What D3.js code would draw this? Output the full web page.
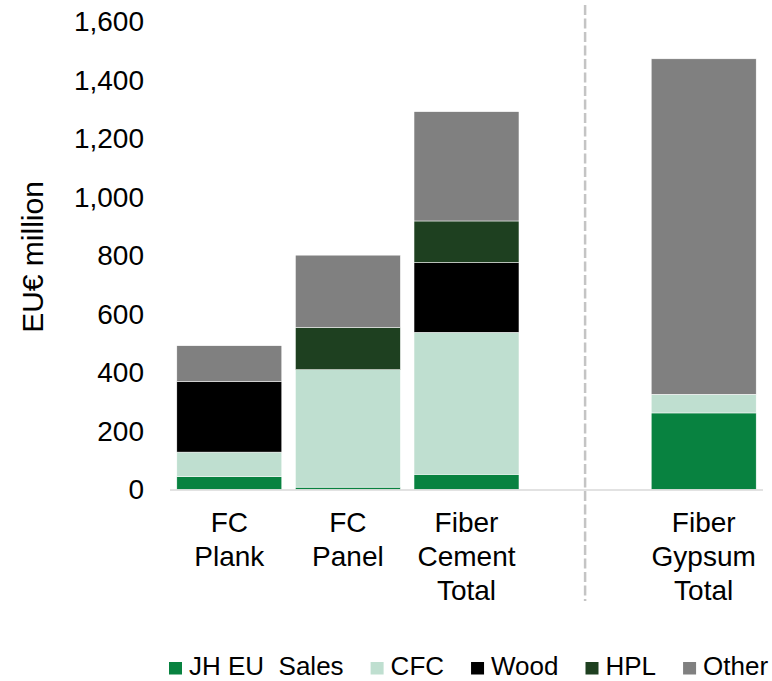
<!DOCTYPE html>
<html>
<head>
<meta charset="utf-8">
<script src="https://cdn.jsdelivr.net/npm/d3@7"></script>
<style>
  html, body { margin: 0; padding: 0; background: #fff; }
  svg text { font-family: "Liberation Sans", Arial, sans-serif; fill: #000; }
</style>
</head>
<body>
<div id="chart"></div>
<script>
// categories (the empty one is the gap where the dashed divider sits)
const categories = ["FC Plank", "FC Panel", "Fiber Cement Total", "", "Fiber Gypsum Total"];
const categoryLines = [["FC", "Plank"], ["FC", "Panel"], ["Fiber", "Cement", "Total"], [], ["Fiber", "Gypsum", "Total"]];

// series values, EU€ million
const jhEuSales = [44, 8, 52, 0, 262];
const cfc = [84, 402, 486, 0, 64];
const wood = [241, 0, 239, 0, 0];
const hpl = [0, 145, 142, 0, 0];
const other = [123, 247, 374, 0, 1148];

const seriesNames = ["JH EU  Sales", "CFC", "Wood", "HPL", "Other"];
const seriesColors = ["#088240", "#bfdfd0", "#000000", "#1e4020", "#808080"];

const yTicks = [0, 200, 400, 600, 800, 1000, 1200, 1400, 1600];

let width = 772, height = 681;

let svg = d3.select("#chart")
  .append("svg")
  .attr("width", width)
  .attr("height", height);

// build a table for d3.stack from the arrays
let seriesValues = [jhEuSales, cfc, wood, hpl, other];
let table = categories.map(function(c, i) {
  let row = {category: c};
  seriesNames.forEach(function(s, j) { row[s] = seriesValues[j][i]; });
  return row;
});

let x = d3.scaleBand()
  .domain(categories)
  .range([170, 763])
  .paddingInner(0.115)
  .paddingOuter(0.0575);

let y = d3.scaleLinear()
  .domain([0, 1600])
  .range([489.5, 22]);

let color = d3.scaleOrdinal().domain(seriesNames).range(seriesColors);

let stacked = d3.stack().keys(seriesNames)(table);

// bars
let layers = svg.append("g").attr("class", "bars")
  .selectAll("g")
  .data(stacked)
  .enter().append("g")
  .attr("fill", function(d) { return color(d.key); });

layers.selectAll("rect")
  .data(function(d) { return d.filter(function(p) { return p[1] - p[0] > 0; }); })
  .enter().append("rect")
  .attr("x", function(d) { return x(d.data.category); })
  .attr("width", x.bandwidth())
  .attr("y", function(d) { return y(d[1]); })
  .attr("height", function(d) { return y(d[0]) - y(d[1]); })
  .attr("stroke", "#ffffff")
  .attr("stroke-width", 0.5);

// baseline
svg.append("line")
  .attr("x1", x.range()[0])
  .attr("x2", x.range()[1])
  .attr("y1", y(0) + 0.5)
  .attr("y2", y(0) + 0.5)
  .attr("stroke", "#d9d9d9")
  .attr("stroke-width", 1.5);

// dashed divider in the middle of the empty slot
let divX = x("") + x.bandwidth() / 2;
svg.append("line")
  .attr("x1", divX)
  .attr("x2", divX)
  .attr("y1", 5)
  .attr("y2", 601)
  .attr("stroke", "#c4c4c4")
  .attr("stroke-width", 2.5)
  .attr("stroke-dasharray", "10,3.5");

// y axis (labels only)
let yAxis = svg.append("g")
  .attr("transform", "translate(170,0)")
  .call(d3.axisLeft(y).tickValues(yTicks).tickSize(0).tickPadding(26).tickFormat(d3.format(",")));
yAxis.select(".domain").remove();
yAxis.selectAll("text")
  .style("font-size", "28px")
  .style("font-family", "'Liberation Sans', Arial, sans-serif")
  .attr("fill", "#000");

svg.append("text")
  .attr("transform", "translate(43,257) rotate(-90)")
  .attr("text-anchor", "middle")
  .style("font-size", "30px")
  .text("EU€ million");

// x labels, multi line
let xLabels = svg.append("g").selectAll("text")
  .data(categories)
  .enter().append("text")
  .attr("text-anchor", "middle")
  .style("font-size", "28px")
  .attr("transform", function(d) { return "translate(" + (x(d) + x.bandwidth() / 2) + ",532)"; });

xLabels.each(function(d, i) {
  let t = d3.select(this);
  categoryLines[i].forEach(function(line, k) {
    t.append("tspan").attr("x", 0).attr("y", k * 34).text(line);
  });
});

// legend
let legend = svg.append("g").attr("class", "legend");
let lx = 169;
seriesNames.forEach(function(name) {
  let item = legend.append("g").attr("transform", "translate(" + lx + ",0)");
  item.append("rect")
    .attr("x", 0)
    .attr("y", 662)
    .attr("width", 13)
    .attr("height", 12.5)
    .attr("fill", color(name));
  let txt = item.append("text")
    .attr("x", 20)
    .attr("y", 675)
    .style("font-size", "26px")
    .style("white-space", "pre")
    .attr("xml:space", "preserve")
    .text(name);
  lx += 20 + txt.node().getComputedTextLength() + 27;
});
</script>
</body>
</html>
